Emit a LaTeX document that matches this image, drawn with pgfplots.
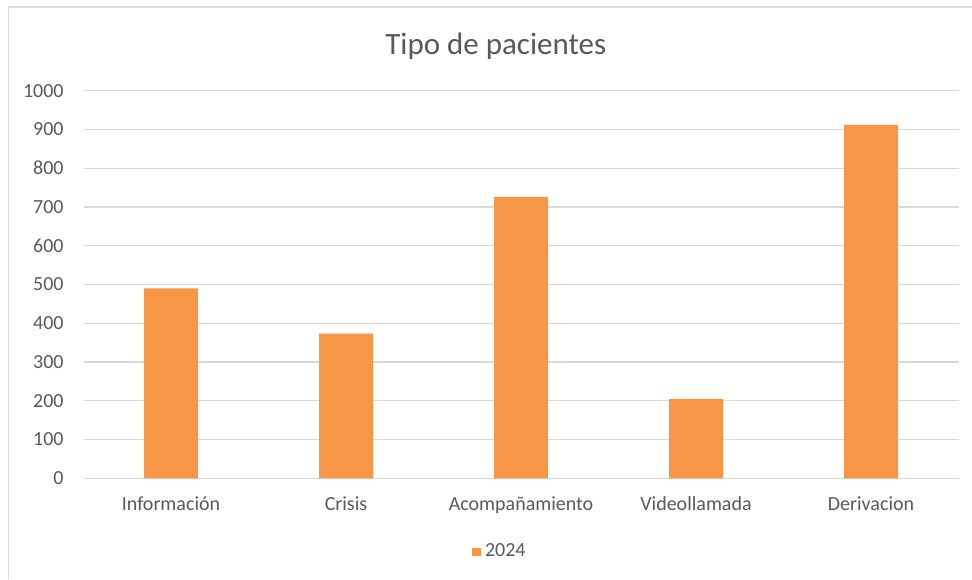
\documentclass[border=0pt]{standalone}
\usepackage{pgfplots}
\pgfplotsset{compat=1.18}
\usepackage{fontspec}
\setmainfont{Carlito}
\definecolor{barorange}{HTML}{F79646}
\definecolor{txtgray}{HTML}{595959}
\definecolor{gridgray}{HTML}{D9D9D9}
\begin{document}
\begin{tikzpicture}[x=1pt,y=1pt]
\useasboundingbox (0,0) rectangle (486,289.5);
\draw[gridgray, line width=0.8pt] (4.3,0) -- (4.3,286) -- (486,286);
\begin{axis}[
  at={(41.75pt,50.35pt)}, anchor=south west,
  scale only axis, width=437.5pt, height=193.8pt,
  ymin=0, ymax=1000, ytick distance=100,
  xmin=-0.5, xmax=4.5, xtick=data,
  xticklabels={Información,Crisis,Acompañamiento,Videollamada,Derivacion},
  ybar, bar width=27pt,
  axis x line*=bottom, axis y line*=left,
  y axis line style={draw=none},
  x axis line style={draw=gridgray, line width=0.7pt},
  major tick length=0pt,
  ymajorgrids, grid style={gridgray, line width=0.7pt},
  tick label style={text=txtgray, font=\fontsize{10}{12}\selectfont},
  /pgf/number format/assume math mode=true,
  /pgf/number format/1000 sep={},
  yticklabel style={anchor=east, inner sep=0pt, xshift=-9.75pt},
  xticklabel style={anchor=base, inner sep=0pt, yshift=-16.2pt},
  title={Tipo de pacientes},
  title style={at={(0.4712,1.063)}, anchor=base, inner sep=0pt, yshift=0pt, font=\fontsize{15.5}{18}\selectfont, text=txtgray},
  legend style={at={(0.477,-0.19)}, anchor=center, draw=none, fill=none, font=\fontsize{10}{12}\selectfont, text=txtgray},
  legend image code/.code={\fill[barorange] (0pt,-2.2pt) rectangle (4.4pt,2.2pt);},
]
\addplot[fill=barorange, draw=none] coordinates {(0,490) (1,373) (2,726) (3,205) (4,912)};
\addlegendentry{2024}
\end{axis}
\end{tikzpicture}
\end{document}
